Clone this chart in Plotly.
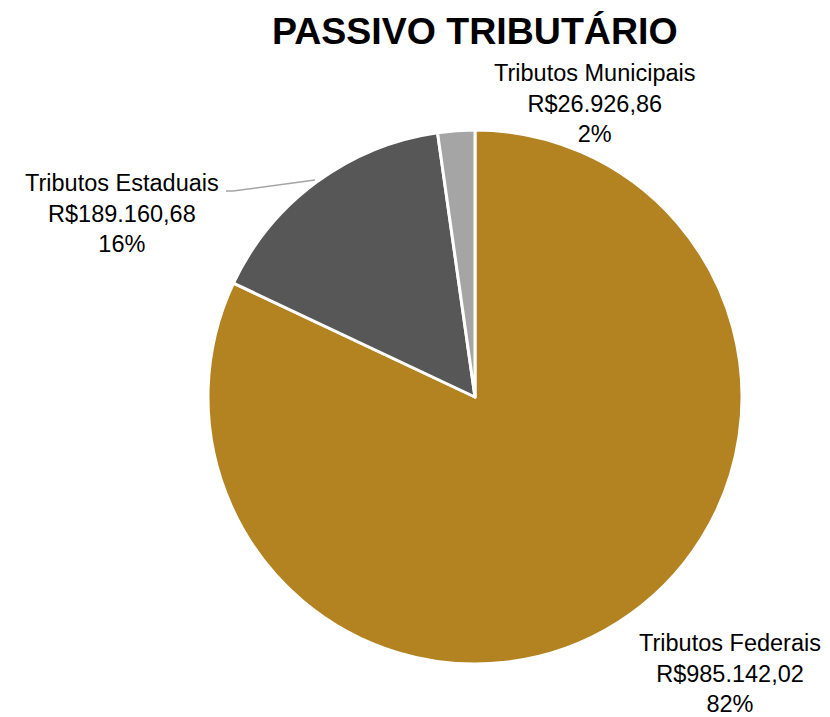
import plotly.graph_objects as go

labels = ["Tributos Federais", "Tributos Estaduais", "Tributos Municipais"]
values = [985142.02, 189160.68, 26926.86]
value_text = ["R$985.142,02", "R$189.160,68", "R$26.926,86"]
pct_text = ["82%", "16%", "2%"]
colors = ["#B38322", "#575757", "#A5A5A5"]

# the page body adds an 8px margin, so the figure is drawn 8px smaller
OFF = 8
W, H = 830 - OFF, 717 - OFF
cx, cy, r = 475 - OFF, 397 - OFF, 267


def px(x):
    return (x - OFF) / W


def py(y):
    return (H - (y - OFF)) / H


fig = go.Figure(go.Pie(
    labels=labels, values=values, sort=False, direction="clockwise", rotation=0,
    marker=dict(colors=colors, line=dict(color="white", width=3)),
    textinfo="none", hoverinfo="label+value+percent", showlegend=False,
    domain=dict(x=[(cx - r) / W, (cx + r) / W], y=[(H - cy - r) / H, (H - cy + r) / H]),
))

label_pos = [(730, 673), (122, 213), (595, 103)]
font = dict(family="Liberation Sans, Arial, sans-serif", size=23.5, color="#000000")
for lab, vt, pt, (lx, ly) in zip(labels, value_text, pct_text, label_pos):
    fig.add_annotation(text=f"{lab}<br>{vt}<br>{pt}", x=px(lx), y=py(ly),
                       xref="paper", yref="paper", xanchor="center", yanchor="middle",
                       showarrow=False, font=font, align="center", borderpad=0)

pts = [(226, 191), (233, 191), (315, 180)]
path = "M " + " L ".join(f"{px(x)},{py(y)}" for x, y in pts)
fig.add_shape(type="path", path=path, xref="paper", yref="paper",
              line=dict(color="#A5A5A5", width=1.5))

fig.add_annotation(text="<b>PASSIVO TRIBUTÁRIO</b>", x=px(475), y=py(31),
                   xref="paper", yref="paper", xanchor="center", yanchor="middle",
                   showarrow=False,
                   font=dict(family="Liberation Sans, Arial, sans-serif", size=37.5, color="#000000"))

fig.update_layout(width=W, height=H, margin=dict(l=0, r=0, t=0, b=0),
                  paper_bgcolor="white", plot_bgcolor="white")
fig.write_html("out.html")
